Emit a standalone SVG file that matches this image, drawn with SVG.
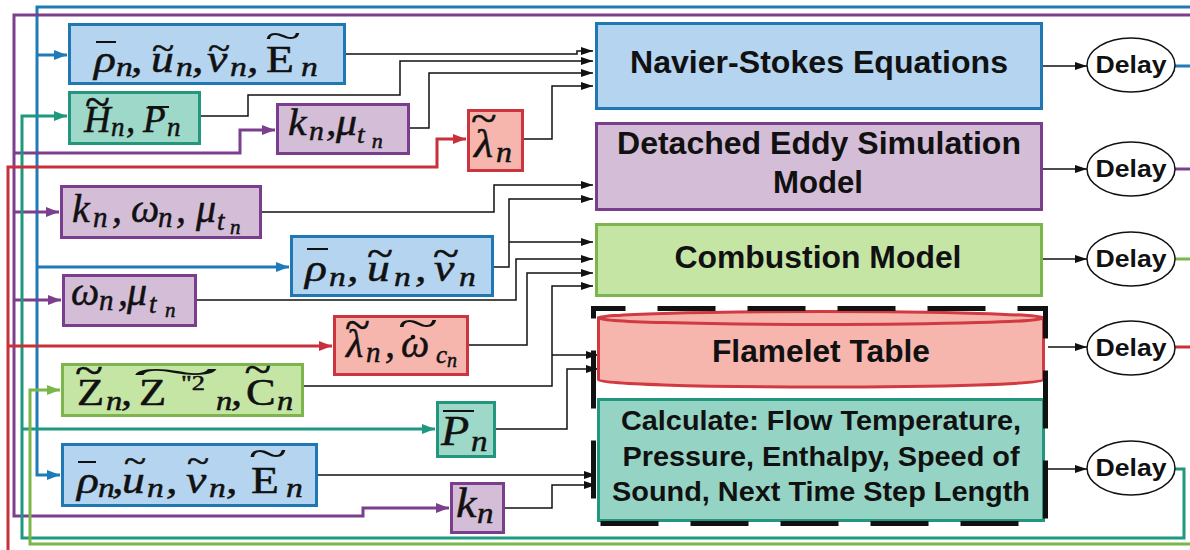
<svg xmlns="http://www.w3.org/2000/svg" width="1190" height="550" viewBox="0 0 1190 550">
<defs>
<style>
.bx{stroke-width:3}
.blue{fill:#b4d4ef;stroke:#1f78b4}
.teal{fill:#9dd8c8;stroke:#22977e}
.purp{fill:#d4bdd7;stroke:#7b3d8d}
.red{fill:#f6b6ad;stroke:#cc3440}
.grn{fill:#c5e5a5;stroke:#7db54c}
.m{font-family:"Liberation Serif","DejaVu Serif",serif;font-style:italic;fill:#111;stroke:#111;stroke-width:0.5}
.rm{font-style:normal}
.tw{font-family:"Liberation Serif","DejaVu Serif",serif;font-size:30px;fill:#111;text-anchor:middle}
.bar{stroke:#111;stroke-width:2}
.ttl{font-family:"Liberation Sans",Arial,sans-serif;font-weight:bold;fill:#111;text-anchor:middle}
.k{fill:none;stroke:#111;stroke-width:1.5}
.c{fill:none;stroke-width:3}
.cb{stroke:#1f7ab8}
.cp{stroke:#7b3f8e}
.ct{stroke:#1f9880}
.cg{stroke:#7ab648}
.cr{stroke:#c8313c}
.dl{fill:#fff;stroke:#111;stroke-width:1.5}
</style>
<marker id="ak" viewBox="0 0 12 8" refX="12" refY="4" markerWidth="12" markerHeight="8" markerUnits="userSpaceOnUse" orient="auto"><path d="M0,0 L12,4 L0,8 z" fill="#111"/></marker>
<marker id="ab" viewBox="0 0 13 10" refX="13" refY="5" markerWidth="13" markerHeight="10" markerUnits="userSpaceOnUse" orient="auto"><path d="M0,0 L13,5 L0,10 z" fill="#1f7ab8"/></marker>
<marker id="ap" viewBox="0 0 13 10" refX="13" refY="5" markerWidth="13" markerHeight="10" markerUnits="userSpaceOnUse" orient="auto"><path d="M0,0 L13,5 L0,10 z" fill="#7b3f8e"/></marker>
<marker id="at" viewBox="0 0 13 10" refX="13" refY="5" markerWidth="13" markerHeight="10" markerUnits="userSpaceOnUse" orient="auto"><path d="M0,0 L13,5 L0,10 z" fill="#1f9880"/></marker>
<marker id="ag" viewBox="0 0 13 10" refX="13" refY="5" markerWidth="13" markerHeight="10" markerUnits="userSpaceOnUse" orient="auto"><path d="M0,0 L13,5 L0,10 z" fill="#7ab648"/></marker>
<marker id="ar" viewBox="0 0 13 10" refX="13" refY="5" markerWidth="13" markerHeight="10" markerUnits="userSpaceOnUse" orient="auto"><path d="M0,0 L13,5 L0,10 z" fill="#c8313c"/></marker>
</defs>
<rect width="1190" height="550" fill="#fff"/>

<g id="connectors">
<path class="c cb" d="M1190,7 H37 V475 H60" marker-end="url(#ab)"/>
<path class="c cb" d="M37,55 H67" marker-end="url(#ab)"/>
<path class="c cb" d="M37,267 H289" marker-end="url(#ab)"/>
<path class="c cb" d="M1175,66 H1190"/>
<path class="c cp" d="M1190,15 H14 V516 H363 V508 H449" marker-end="url(#ap)"/>
<path class="c cp" d="M14,153 H240 V130 H275" marker-end="url(#ap)"/>
<path class="c cp" d="M14,212 H59" marker-end="url(#ap)"/>
<path class="c cp" d="M14,300 H61" marker-end="url(#ap)"/>
<path class="c cp" d="M1175,169 H1190"/>
<path class="c ct" d="M1175,469 H1184 V538 H22 V116 H67" marker-end="url(#at)"/>
<path class="c ct" d="M22,429 H435" marker-end="url(#at)"/>
<path class="c cg" d="M1190,544 H30 V390 H60" marker-end="url(#ag)"/>
<path class="c cg" d="M1175,259 H1190"/>
<path class="c cr" d="M8,550 V167 H437 V139 H466" marker-end="url(#ar)"/>
<path class="c cr" d="M8,346 H332" marker-end="url(#ar)"/>
<path class="c cr" d="M1175,347 H1190"/>
<path class="k" d="M346,54 H577 V51 H593" marker-end="url(#ak)"/>
<path class="k" d="M201,116 H248 V95 H400 V61 H593" marker-end="url(#ak)"/>
<path class="k" d="M410,128 H429 V73 H593" marker-end="url(#ak)"/>
<path class="k" d="M524,139 H552 V86 H593" marker-end="url(#ak)"/>
<path class="k" d="M262,212 H494 V185 H593" marker-end="url(#ak)"/>
<path class="k" d="M494,267 H509 V199 H593" marker-end="url(#ak)"/>
<path class="k" d="M509,242 H593" marker-end="url(#ak)"/>
<path class="k" d="M197,300 H516 V259 H593" marker-end="url(#ak)"/>
<path class="k" d="M469,345 H527 V273 H593" marker-end="url(#ak)"/>
<path class="k" d="M304,386 H552 V286 H593" marker-end="url(#ak)"/>
<path class="k" d="M552,355 H598" marker-end="url(#ak)"/>
<path class="k" d="M496,429 H567 V369 H598" marker-end="url(#ak)"/>
<path class="k" d="M318,475 H596" marker-end="url(#ak)"/>
<path class="k" d="M505,508 H552 V485 H596" marker-end="url(#ak)"/>
<path class="k" d="M1043,66 H1087" marker-end="url(#ak)"/>
<path class="k" d="M1043,169 H1087" marker-end="url(#ak)"/>
<path class="k" d="M1043,259 H1087" marker-end="url(#ak)"/>
<path class="k" d="M1048,347 H1087" marker-end="url(#ak)"/>
<path class="k" d="M1048,469 H1087" marker-end="url(#ak)"/>
</g>

<g id="ns">
<rect class="bx blue" x="596.5" y="23.5" width="445" height="85"/>
<text class="ttl" x="819" y="73" font-size="31" textLength="378" lengthAdjust="spacingAndGlyphs">Navier-Stokes Equations</text>
</g>
<g id="des">
<rect class="bx purp" x="596.5" y="123.5" width="445" height="86"/>
<text class="ttl" x="819" y="154" font-size="31" textLength="404" lengthAdjust="spacingAndGlyphs">Detached Eddy Simulation</text>
<text class="ttl" x="818" y="193" font-size="31" textLength="90" lengthAdjust="spacingAndGlyphs">Model</text>
</g>
<g id="comb">
<rect class="bx grn" x="596.5" y="224.5" width="445" height="71"/>
<text class="ttl" x="818" y="268" font-size="31" textLength="287" lengthAdjust="spacingAndGlyphs">Combustion Model</text>
</g>
<g id="flamelet">
<path d="M598.5,318 V380 A222.5,7 0 0 0 1043.5,380 V318 Z" fill="#f6b6ad" stroke="#d03a40" stroke-width="3"/>
<ellipse cx="821" cy="318" rx="222.5" ry="6.5" fill="#f6b6ad" stroke="#d03a40" stroke-width="3"/>
<text class="ttl" x="821" y="362" font-size="31" textLength="218" lengthAdjust="spacingAndGlyphs">Flamelet Table</text>
</g>
<g id="calc">
<rect class="bx" x="598.5" y="399.5" width="445" height="121" fill="#95d4c4" stroke="#22977e"/>
<text class="ttl" x="821" y="430" font-size="28" textLength="400" lengthAdjust="spacingAndGlyphs">Calculate: Flow Temperature,</text>
<text class="ttl" x="821" y="466" font-size="28" textLength="397" lengthAdjust="spacingAndGlyphs">Pressure, Enthalpy, Speed of</text>
<text class="ttl" x="821" y="501" font-size="28" textLength="418" lengthAdjust="spacingAndGlyphs">Sound, Next Time Step Length</text>
</g>
<g id="group-box">
<rect x="593.5" y="308.5" width="452" height="215" fill="none" stroke="#111" stroke-width="5" stroke-dasharray="58 32" stroke-dashoffset="26"/>
</g>

<g id="delay1"><ellipse class="dl" cx="1131" cy="65" rx="44" ry="27"/><text class="ttl" x="1131" y="73" font-size="24" textLength="71" lengthAdjust="spacingAndGlyphs">Delay</text></g>
<g id="delay2"><ellipse class="dl" cx="1131" cy="169" rx="44" ry="27"/><text class="ttl" x="1131" y="177" font-size="24" textLength="71" lengthAdjust="spacingAndGlyphs">Delay</text></g>
<g id="delay3"><ellipse class="dl" cx="1131" cy="259" rx="44" ry="27"/><text class="ttl" x="1131" y="267" font-size="24" textLength="71" lengthAdjust="spacingAndGlyphs">Delay</text></g>
<g id="delay4"><ellipse class="dl" cx="1131" cy="348" rx="44" ry="27"/><text class="ttl" x="1131" y="356" font-size="24" textLength="71" lengthAdjust="spacingAndGlyphs">Delay</text></g>
<g id="delay5"><ellipse class="dl" cx="1131" cy="468" rx="44" ry="27"/><text class="ttl" x="1131" y="476" font-size="24" textLength="71" lengthAdjust="spacingAndGlyphs">Delay</text></g>

<g id="in-ns-state">
<rect class="bx blue" x="69.5" y="24.5" width="275" height="59"/>
<text class="m" font-size="38" transform="matrix(1.2,0,0,1,0,0)"><tspan x="78.3" y="72">ρ</tspan><tspan x="96.7" y="76" font-size="28">n</tspan><tspan x="109.2" y="72">,</tspan><tspan x="125.8" y="72">u</tspan><tspan class="rm" x="126.6" y="58.6" font-size="34">~</tspan><tspan x="146.7" y="76" font-size="28">n</tspan><tspan x="160" y="72">,</tspan><tspan x="172.5" y="72">v</tspan><tspan class="rm" x="173.3" y="58.6" font-size="34">~</tspan><tspan x="191.7" y="76" font-size="28">n</tspan><tspan x="205.8" y="72">,</tspan><tspan class="rm" x="221.7" y="72">E</tspan><tspan x="250.8" y="76" font-size="28">n</tspan></text>
<line class="bar" x1="96" y1="42" x2="116" y2="42"/>
<text class="tw" transform="translate(283,38) scale(2.25,1.3)" y="7.6">~</text>
</g>
<g id="in-h-p">
<rect class="bx teal" x="69.5" y="92.5" width="130" height="51"/>
<text class="m" font-size="37"><tspan x="84" y="132">H</tspan><tspan class="rm" x="85" y="117" font-size="46">~</tspan><tspan x="111" y="136" font-size="27">n</tspan><tspan x="126" y="132">,</tspan><tspan x="143" y="132">P</tspan><tspan x="167" y="136" font-size="27">n</tspan></text>
<line class="bar" x1="148" y1="107" x2="169" y2="107"/>
</g>
<g id="in-k-mu">
<rect class="bx purp" x="277.5" y="104.5" width="131" height="49"/>
<text class="m" font-size="38" transform="matrix(1.1,0,0,1,0,0)"><tspan x="261.8" y="135">k</tspan><tspan x="280.9" y="140" font-size="27">n</tspan><tspan x="296.4" y="135">,</tspan><tspan x="305.5" y="135">μ</tspan><tspan x="324.5" y="143" font-size="25">t</tspan><tspan x="338" y="148" font-size="20">n</tspan></text>
</g>
<g id="in-lambda">
<rect class="bx red" x="468.5" y="110.5" width="54" height="60"/>
<text class="m" font-size="40" transform="matrix(1.1,0,0,1,0,0)"><tspan x="430.9" y="157">λ</tspan><tspan class="rm" x="428.3" y="131.9" font-size="43">~</tspan><tspan x="450.9" y="162" font-size="29">n</tspan></text>
</g>
<g id="in-k-omega-mu">
<rect class="bx purp" x="61.5" y="186.5" width="199" height="51"/>
<text class="m" font-size="40"><tspan x="72" y="222">k</tspan><tspan x="93" y="227" font-size="29">n</tspan><tspan x="112" y="222">,</tspan><tspan x="131" y="222">ω</tspan><tspan x="158" y="227" font-size="29">n</tspan><tspan x="176" y="222">,</tspan><tspan x="196" y="222">μ</tspan><tspan x="217" y="230" font-size="27">t</tspan><tspan x="230" y="234" font-size="21">n</tspan></text>
</g>
<g id="in-des-state">
<rect class="bx blue" x="291.5" y="236.5" width="201" height="59"/>
<text class="m" font-size="38" transform="matrix(1.2,0,0,1,0,0)"><tspan x="254.2" y="281">ρ</tspan><tspan x="274.2" y="286" font-size="28">n</tspan><tspan x="289.2" y="281">,</tspan><tspan x="305.8" y="281">u</tspan><tspan class="rm" x="305.9" y="267.1" font-size="40">~</tspan><tspan x="328.3" y="286" font-size="28">n</tspan><tspan x="345.8" y="281">,</tspan><tspan x="361.7" y="281">v</tspan><tspan class="rm" x="360.9" y="267.1" font-size="40">~</tspan><tspan x="382.5" y="286" font-size="28">n</tspan></text>
<line class="bar" x1="307" y1="249" x2="328" y2="249"/>
</g>
<g id="in-omega-mu">
<rect class="bx purp" x="63.5" y="275.5" width="132" height="50"/>
<text class="m" font-size="40"><tspan x="71" y="305">ω</tspan><tspan x="99" y="310" font-size="29">n</tspan><tspan x="118" y="305">,</tspan><tspan x="127" y="305">μ</tspan><tspan x="149" y="313" font-size="27">t</tspan><tspan x="165" y="317" font-size="21">n</tspan></text>
</g>
<g id="in-lambda-omega">
<rect class="bx red" x="334.5" y="316.5" width="133" height="58"/>
<text class="m" font-size="40"><tspan x="346" y="357">λ</tspan><tspan class="rm" x="345" y="340" font-size="46">~</tspan><tspan x="366" y="362" font-size="29">n</tspan><tspan x="385" y="357">,</tspan><tspan x="401" y="357">ω</tspan><tspan x="436" y="363" font-size="25">c</tspan><tspan x="447" y="367" font-size="20">n</tspan></text>
<text class="tw" transform="translate(418,327) scale(2.5,1.3)" y="7.6">~</text>
<circle cx="413" cy="337" r="2.3" fill="#111"/>
</g>
<g id="in-z-c">
<rect class="bx grn" x="62.5" y="364.5" width="240" height="51"/>
<text class="m" font-size="37" transform="matrix(1.2,0,0,1,0,0)"><tspan class="rm" x="64.2" y="405">Z</tspan><tspan class="rm" x="62.5" y="383.9" font-size="43">~</tspan><tspan x="88.3" y="410" font-size="27">n</tspan><tspan x="100.8" y="405">,</tspan><tspan class="rm" x="115.8" y="405">Z</tspan><tspan class="rm" x="150.8" y="390" font-size="22">"2</tspan><tspan x="180" y="410" font-size="27">n</tspan><tspan x="192.5" y="405">,</tspan><tspan class="rm" x="205" y="405">C</tspan><tspan class="rm" x="203.8" y="383.5" font-size="41">~</tspan><tspan x="230.8" y="410" font-size="27">n</tspan></text>
<text class="tw" transform="translate(176,375) scale(5.6,1.2)" y="7.6">~</text>
</g>
<g id="in-p">
<rect class="bx teal" x="437.5" y="402.5" width="57" height="54"/>
<text class="m" font-size="42" transform="matrix(1.1,0,0,1,0,0)"><tspan x="400.9" y="445">P</tspan><tspan x="428.2" y="451" font-size="30">n</tspan></text>
<line class="bar" x1="443" y1="411" x2="474" y2="411"/>
</g>
<g id="in-calc-state">
<rect class="bx blue" x="62.5" y="444.5" width="254" height="61"/>
<text class="m" font-size="38" transform="matrix(1.2,0,0,1,0,0)"><tspan x="64.2" y="493">ρ</tspan><tspan x="81.7" y="497" font-size="28">n</tspan><tspan x="93.3" y="493">,</tspan><tspan x="101.7" y="493">u</tspan><tspan class="rm" x="103.3" y="471.6" font-size="34">~</tspan><tspan x="122.5" y="497" font-size="28">n</tspan><tspan x="138.3" y="493">,</tspan><tspan x="155" y="493">v</tspan><tspan class="rm" x="155.8" y="471.6" font-size="34">~</tspan><tspan x="174.2" y="497" font-size="28">n</tspan><tspan x="188.3" y="493">,</tspan><tspan class="rm" x="209.2" y="493">E</tspan><tspan x="238.3" y="497" font-size="28">n</tspan></text>
<line class="bar" x1="78" y1="462" x2="96" y2="462"/>
<text class="tw" transform="translate(268,457) scale(2.4,1.3)" y="7.6">~</text>
</g>
<g id="in-k">
<rect class="bx purp" x="451.5" y="483.5" width="52" height="49"/>
<text class="m" font-size="42" transform="matrix(1.1,0,0,1,0,0)"><tspan x="414.5" y="517">k</tspan><tspan x="433.6" y="523" font-size="30">n</tspan></text>
</g>
</svg>
